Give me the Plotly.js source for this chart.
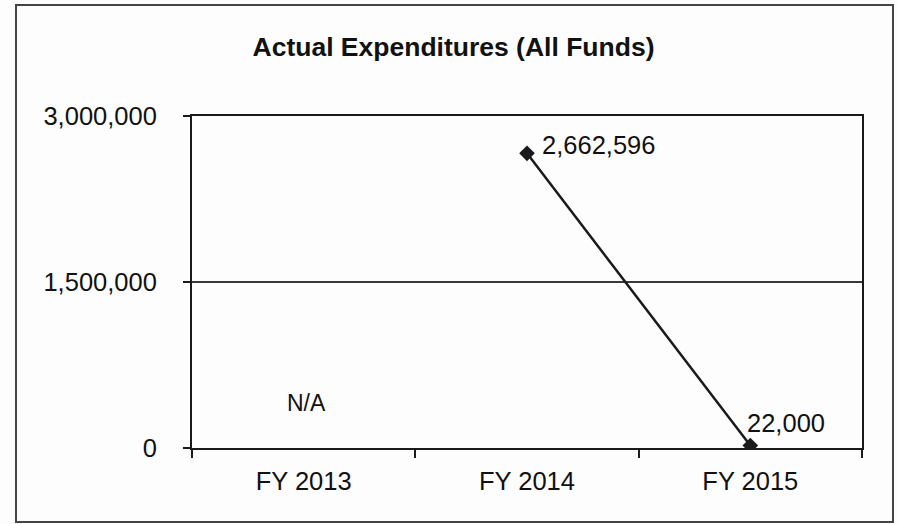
<!DOCTYPE html>
<html>
<head>
<meta charset="utf-8">
<script src="https://cdn.plot.ly/plotly-3.0.1.min.js"></script>
<style>
  html, body { margin: 0; padding: 0; background: #fdfdfd; }
  #chart { width: 898px; height: 524px; }
</style>
</head>
<body>
<div id="chart"></div>
<script>
// Data
const categories = ["FY 2013", "FY 2014", "FY 2015"];
const expenditures = [null, 2662596, 22000];
const valueLabels = ["", "2,662,596", "22,000"];
const naCategory = "FY 2013";
const naLabel = "N/A";
const yTickValues = [0, 1500000, 3000000];
const yTickLabels = ["0", "1,500,000", "3,000,000"];
const chartTitle = "Actual Expenditures (All Funds)";

const FONT = "Liberation Sans, Arial, sans-serif";

const trace = {
  type: "scatter",
  mode: "lines+markers",
  x: categories,
  y: expenditures,
  connectgaps: false,
  line: { color: "#1a1a1a", width: 2.5 },
  marker: { symbol: "diamond", size: 12, color: "#1a1a1a" },
  hoverinfo: "skip",
  showlegend: false
};

const annotations = [
  {
    x: categories[1], y: expenditures[1], xref: "x", yref: "y",
    text: valueLabels[1], showarrow: false,
    xanchor: "left", yanchor: "middle", xshift: 13, yshift: 8,
    font: { family: FONT, size: 25.5, color: "#111" }
  },
  {
    x: categories[2], y: expenditures[2], xref: "x", yref: "y",
    text: valueLabels[2], showarrow: false,
    xanchor: "left", yanchor: "middle", xshift: -5, yshift: 23,
    font: { family: FONT, size: 25.5, color: "#111" }
  },
  {
    x: naCategory, y: 0, xref: "x", yref: "y",
    text: naLabel, showarrow: false,
    xanchor: "center", yanchor: "middle", xshift: 3, yshift: 45,
    font: { family: FONT, size: 23, color: "#111" }
  }
];

const layout = {
  width: 898,
  height: 524,
  paper_bgcolor: "#fdfdfd",
  plot_bgcolor: "#fdfdfd",
  margin: { l: 192, r: 36, t: 116, b: 76 },
  title: {
    text: "<b>" + chartTitle + "</b>",
    xref: "container", x: 0.505, xanchor: "center",
    yref: "container", y: 1 - 47 / 524, yanchor: "middle",
    font: { family: FONT, size: 26.5, color: "#111" }
  },
  xaxis: {
    type: "category",
    categoryorder: "array",
    categoryarray: categories,
    range: [-0.5, 2.5],
    tickson: "boundaries",
    ticks: "outside",
    ticklen: 8,
    tickwidth: 2,
    tickcolor: "#1a1a1a",
    showline: true,
    linecolor: "#1a1a1a",
    linewidth: 2,
    mirror: true,
    showgrid: false,
    zeroline: false,
    ticklabelstandoff: 9,
    tickfont: { family: FONT, size: 25.5, color: "#111" },
    fixedrange: true
  },
  yaxis: {
    range: [0, 3000000],
    tickmode: "array",
    tickvals: yTickValues,
    ticktext: yTickLabels,
    ticks: "outside",
    ticklen: 7,
    tickwidth: 2,
    tickcolor: "#1a1a1a",
    showline: true,
    linecolor: "#1a1a1a",
    linewidth: 2,
    mirror: true,
    showgrid: true,
    gridcolor: "#3a3a3a",
    gridwidth: 1.5,
    zeroline: false,
    ticklabelstandoff: 21,
    tickfont: { family: FONT, size: 25.5, color: "#111" },
    fixedrange: true
  },
  annotations: annotations,
  shapes: [
    {
      type: "rect", xref: "paper", yref: "paper",
      x0: (16 - 192) / 670, x1: (893 - 192) / 670,
      y0: (448 - 522) / 332, y1: (448 - 5) / 332,
      line: { color: "#444", width: 2 },
      fillcolor: "rgba(0,0,0,0)",
      layer: "below"
    }
  ]
};

Plotly.newPlot("chart", [trace], layout, { displayModeBar: false, staticPlot: true });
</script>
</body>
</html>
